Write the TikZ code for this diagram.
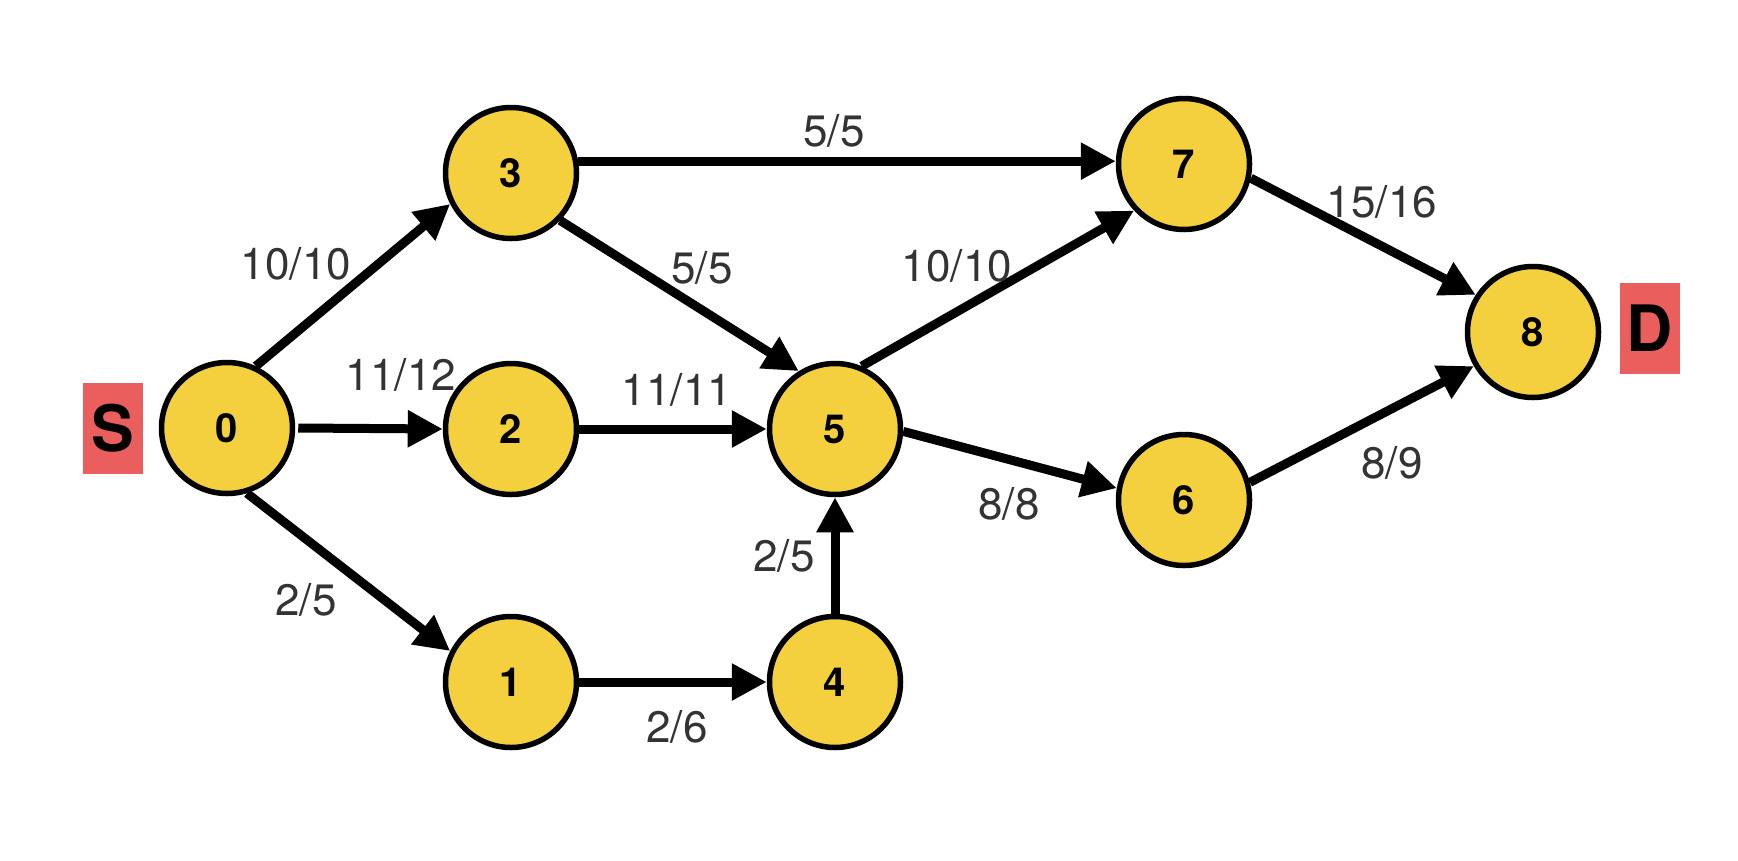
\documentclass[tikz,border=0pt]{standalone}
\usepackage{fontspec}
\setmainfont{TeX Gyre Heros}
\usetikzlibrary{arrows.meta}
\definecolor{nodeyellow}{RGB}{244,208,63}
\definecolor{endred}{RGB}{234,94,94}
\tikzset{
  vertex/.style   = { circle, draw, line width=5.5pt, fill=nodeyellow, minimum size=131pt,
                      inner sep=0pt, font=\fontsize{40}{40}\selectfont\bfseries },
  flow/.style     = { line width=9pt, -{Triangle[length=35pt,width=35pt]} },
  capacity/.style = { text=black!80, font=\fontsize{44}{44}\selectfont },
  ends/.style     = { fill=endred, minimum width=60pt, minimum height=91pt, inner sep=0pt,
                      font=\fontsize{64}{64}\selectfont\bfseries }
}

\begin{document}
\begin{tikzpicture}[x=1pt, y=-1pt]
    \useasboundingbox (0,0) rectangle (1738,860);

    \node[vertex] (n0) at (227,428) {0};
    \node[vertex] (n3) at (511,173) {3};
    \node[vertex] (n2) at (511,429) {2};
    \node[vertex] (n1) at (511,682) {1};
    \node[vertex] (n5) at (835,429) {5};
    \node[vertex] (n4) at (835,682) {4};
    \node[vertex] (n7) at (1184,164) {7};
    \node[vertex] (n6) at (1184,500) {6};
    \node[vertex] (n8) at (1533,332) {8};

    \node[ends] (src) at (113,428) {S};
    \node[ends] (dst) at (1650,328) {D};

    \draw[flow] (n0.65)  -- (n3.207);
    \draw[flow] ([xshift=3pt]n0.east) -- (n2.west);
    \draw[flow] (n0.-73) -- (n1.153);
    \draw[flow] (n3.10)  -- (n3.10 -| n7.west);
    \draw[flow] (n3.-44) -- (n5.122);
    \draw[flow] (n2)     -- (n5);
    \draw[flow] (n1)     -- (n4);
    \draw[flow] (n4)     -- (n5);
    \draw[flow] (n5.67)  -- (n7.223);
    \draw[flow] (n5.-2)  -- (n6.170);
    \draw[flow] (n7.-12) -- (n8.147);
    \draw[flow] (n6.15)  -- (n8.210);

    \node[capacity] (c03) at (296,264) {10/10};
    \node[capacity] (c02) at (401,375) {11/12};
    \node[capacity] (c01) at (306,600) {2/5};
    \node[capacity] (c37) at (834,131) {5/5};
    \node[capacity] (c35) at (702,268) {5/5};
    \node[capacity] (c25) at (677,390) {11/11};
    \node[capacity] (c14) at (677,727) {2/6};
    \node[capacity] (c45) at (784,556) {2/5};
    \node[capacity] (c57) at (957,266) {10/10};
    \node[capacity] (c56) at (1009,504) {8/8};
    \node[capacity] (c78) at (1382,202) {15/16};
    \node[capacity] (c68) at (1392,463) {8/9};
\end{tikzpicture}
\end{document}
